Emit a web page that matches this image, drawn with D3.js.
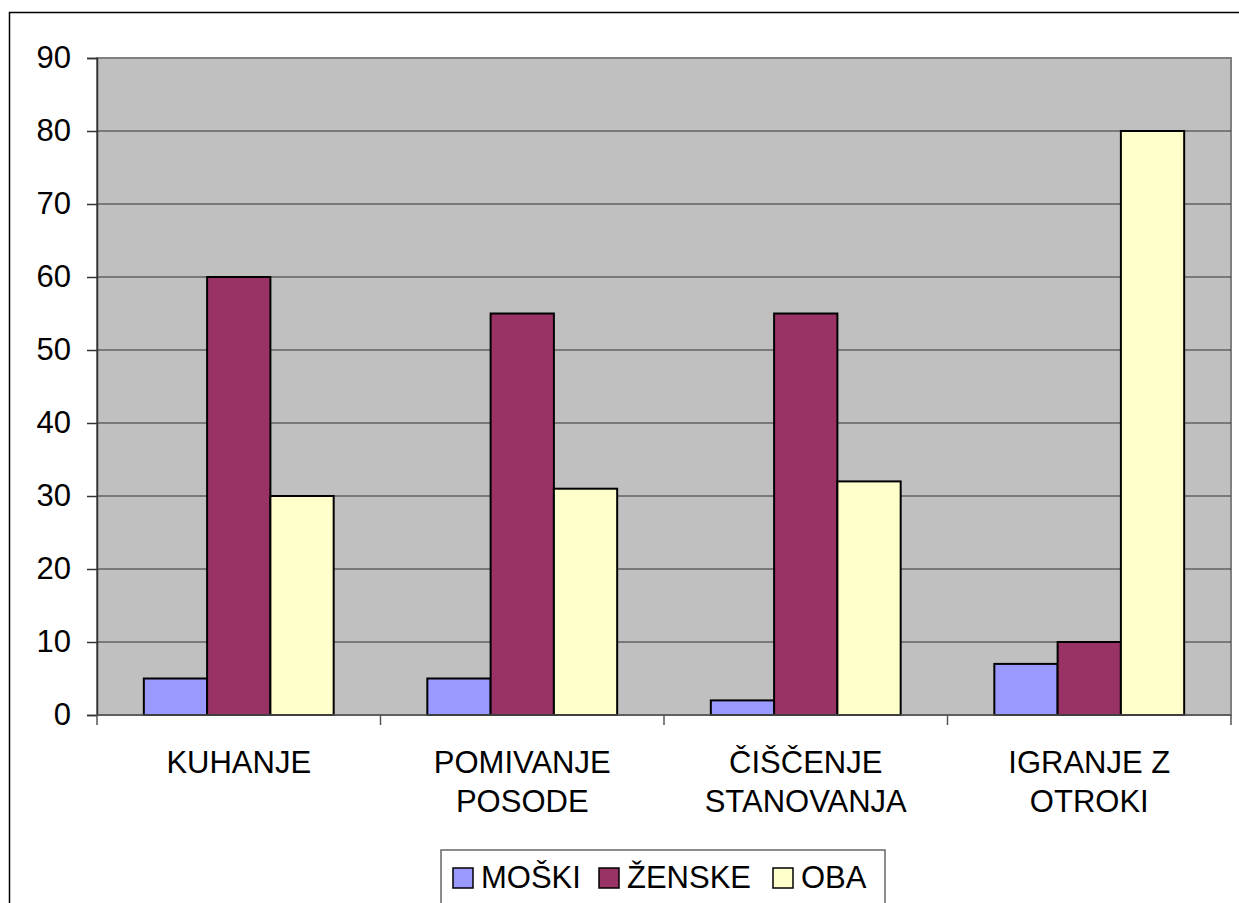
<!DOCTYPE html>
<html>
<head>
<meta charset="utf-8">
<script src="https://cdn.jsdelivr.net/npm/d3@7"></script>
<style>
  body { margin: 0; background: #fff; }
  text { font-family: "Liberation Sans", Arial, sans-serif; fill: #000; }
</style>
</head>
<body>
<script>
var categories = ["KUHANJE", "POMIVANJE POSODE", "ČIŠČENJE STANOVANJA", "IGRANJE Z OTROKI"];
var categoryLines = [["KUHANJE"], ["POMIVANJE", "POSODE"], ["ČIŠČENJE", "STANOVANJA"], ["IGRANJE Z", "OTROKI"]];
var seriesNames = ["MOŠKI", "ŽENSKE", "OBA"];
var moski = [5, 5, 2, 7];
var zenske = [60, 55, 55, 10];
var oba = [30, 31, 32, 80];
var yTicks = [0, 10, 20, 30, 40, 50, 60, 70, 80, 90];
var colors = ["#9999ff", "#993366", "#ffffcc"];

var width = 1239;
var height = 903;
var plot = {left: 97, top: 58, right: 1231, bottom: 715};
var fontSize = 31;

var svg = d3.select("body")
    .append("svg")
    .attr("width", width)
    .attr("height", height);

// outer frame (runs off the right and bottom edge)
svg.append("rect")
    .attr("x", 9.5)
    .attr("y", 12.5)
    .attr("width", 1260)
    .attr("height", 960)
    .attr("fill", "#fff")
    .attr("stroke", "#000")
    .attr("stroke-width", 1.5);

var x0 = d3.scaleBand()
    .domain(categories)
    .range([plot.left, plot.right])
    .padding(0);

var x1 = d3.scaleBand()
    .domain(seriesNames)
    .range([0, x0.bandwidth()])
    .paddingInner(0)
    .paddingOuter(0.74);

var y = d3.scaleLinear()
    .domain([0, 90])
    .range([plot.bottom, plot.top]);

// plot background
svg.append("rect")
    .attr("x", plot.left)
    .attr("y", plot.top)
    .attr("width", plot.right - plot.left)
    .attr("height", plot.bottom - plot.top)
    .attr("fill", "#c0c0c0")
    .attr("stroke", "#808080")
    .attr("stroke-width", 2);

// gridlines
svg.append("g")
    .selectAll("line")
    .data(yTicks.filter(function(d){ return d > 0 && d < 90; }))
    .enter()
    .append("line")
    .attr("x1", plot.left)
    .attr("x2", plot.right)
    .attr("y1", function(d){ return y(d); })
    .attr("y2", function(d){ return y(d); })
    .attr("stroke", "#333")
    .attr("stroke-width", 1.2);

// y axis
var yAxis = svg.append("g")
    .attr("transform", "translate(" + plot.left + ",0)")
    .call(d3.axisLeft(y).tickValues(yTicks).tickSize(10).tickPadding(16));
yAxis.select(".domain").attr("stroke", "#333").attr("stroke-width", 1.5);
yAxis.selectAll(".tick line").attr("stroke", "#333").attr("stroke-width", 1.5);
yAxis.selectAll(".tick text")
    .attr("font-size", fontSize)
    .attr("font-family", "'Liberation Sans', Arial, sans-serif")
    .attr("fill", "#000");

// bars
var data = categories.map(function(c, i){
    return {cat: c, values: [moski[i], zenske[i], oba[i]]};
});

var groups = svg.append("g")
    .selectAll("g")
    .data(data)
    .enter()
    .append("g")
    .attr("transform", function(d){ return "translate(" + x0(d.cat) + ",0)"; });

groups.selectAll("rect")
    .data(function(d){
        return d.values.map(function(v, j){ return {name: seriesNames[j], value: v, j: j}; });
    })
    .enter()
    .append("rect")
    .attr("x", function(d){ return x1(d.name); })
    .attr("y", function(d){ return y(d.value); })
    .attr("width", x1.bandwidth())
    .attr("height", function(d){ return y(0) - y(d.value); })
    .attr("fill", function(d){ return colors[d.j]; })
    .attr("stroke", "#000")
    .attr("stroke-width", 2);

// x axis line and ticks
var xAxis = svg.append("g");
xAxis.append("line")
    .attr("x1", plot.left)
    .attr("x2", plot.right)
    .attr("y1", plot.bottom)
    .attr("y2", plot.bottom)
    .attr("stroke", "#555")
    .attr("stroke-width", 1.5);
xAxis.selectAll(".xt")
    .data(categories.concat(["end"]))
    .enter()
    .append("line")
    .attr("x1", function(d, i){ return i < categories.length ? x0(d) : plot.right; })
    .attr("x2", function(d, i){ return i < categories.length ? x0(d) : plot.right; })
    .attr("y1", plot.bottom)
    .attr("y2", plot.bottom + 10)
    .attr("stroke", "#555")
    .attr("stroke-width", 1.5);

// category labels
var labels = svg.append("g")
    .selectAll("text")
    .data(categories)
    .enter()
    .append("text")
    .attr("x", function(d){ return x0(d) + x0.bandwidth() / 2; })
    .attr("y", 773)
    .attr("text-anchor", "middle")
    .attr("font-size", fontSize);

labels.selectAll("tspan")
    .data(function(d, i){ return categoryLines[i]; })
    .enter()
    .append("tspan")
    .attr("x", function(){ var p = this.parentNode; return p.getAttribute("x"); })
    .attr("dy", function(d, i){ return i === 0 ? 0 : 39; })
    .text(function(d){ return d; });

// legend
var legend = svg.append("g");
legend.append("rect")
    .attr("x", 441)
    .attr("y", 850)
    .attr("width", 444)
    .attr("height", 80)
    .attr("fill", "#fff")
    .attr("stroke", "#666")
    .attr("stroke-width", 1.5);

var legendX = [453, 599, 773];
var items = legend.selectAll(".item")
    .data(seriesNames)
    .enter()
    .append("g")
    .attr("transform", function(d, i){ return "translate(" + legendX[i] + ",868)"; });

items.append("rect")
    .attr("width", 20)
    .attr("height", 20)
    .attr("fill", function(d, i){ return colors[i]; })
    .attr("stroke", "#000")
    .attr("stroke-width", 1.5);

items.append("text")
    .attr("x", 28)
    .attr("y", 20)
    .attr("font-size", fontSize)
    .text(function(d){ return d; });
</script>
</body>
</html>
